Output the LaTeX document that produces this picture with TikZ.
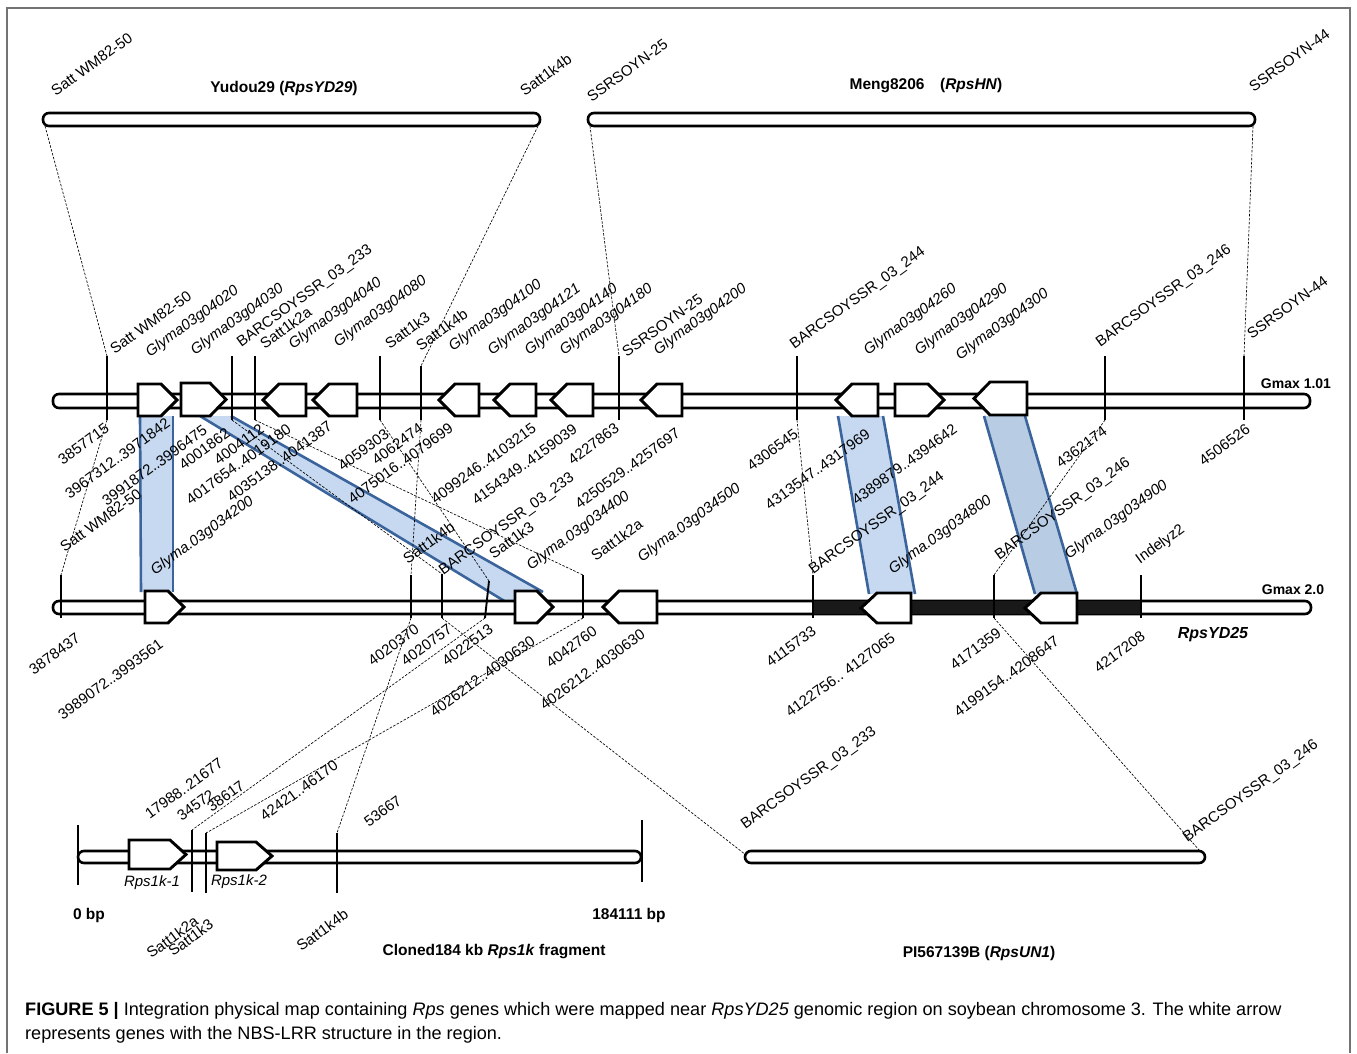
\documentclass[tikz,border=0pt]{standalone}
\usepackage{fontspec}
\setmainfont{Liberation Sans}
\newcommand\lblfnt{\fontsize{15}{17}\selectfont}
\newcommand\ttlfnt{\fontsize{15.5}{18}\selectfont}
\definecolor{bandfill}{RGB}{198,217,241}
\definecolor{bandfillb}{RGB}{184,204,228}
\definecolor{bandedge}{RGB}{58,100,155}
\newcommand\generight[4]{\draw[gene] (#1,#3) -- ({#2-16},#3) -- (#2,{(#3+#4)/2}) -- ({#2-16},#4) -- (#1,#4) -- cycle;}
\newcommand\geneleft[4]{\draw[gene] (#2,#3) -- ({#1+16},#3) -- (#1,{(#3+#4)/2}) -- ({#1+16},#4) -- (#2,#4) -- cycle;}
\begin{document}
\begin{tikzpicture}[x=1pt,y=-1pt,
  chrom/.style={draw=black, line width=2.6pt, fill=white, rounded corners=6pt},
  gene/.style={draw=black, line width=2.9pt, fill=white, line join=miter},
  mk/.style={draw=black, line width=1.9pt},
  dsh/.style={draw=black, line width=0.65pt, dash pattern=on 2.5pt off 1.5pt},
  bedge/.style={draw=bandedge, line width=2.6pt},
  lbl/.style={rotate=36, anchor=south west, inner sep=0pt, font=\lblfnt},
  ilbl/.style={lbl, font=\lblfnt\itshape},
  num/.style={rotate=36, anchor=north east, inner sep=0pt, font=\lblfnt},
  ttl/.style={inner sep=0pt, font=\ttlfnt\bfseries},
]
\useasboundingbox (0,0) rectangle (1357,1053);
\draw[black!55, line width=1.2pt] (7,1053) -- (7,8) -- (1350,8) -- (1350,1053);

% ---------- coordinates of markers ----------
% Gmax 1.01
\coordinate (a1t) at (107,356); \coordinate (a1b) at (107,420);
\coordinate (a2t) at (232,356); \coordinate (a2b) at (232,420);
\coordinate (a3t) at (255,356); \coordinate (a3b) at (255,420);
\coordinate (a4t) at (380,356); \coordinate (a4b) at (380,420);
\coordinate (a5t) at (421,366); \coordinate (a5b) at (421,420);
\coordinate (a6t) at (619,356); \coordinate (a6b) at (619,420);
\coordinate (a7t) at (797,356); \coordinate (a7b) at (797,420);
\coordinate (a8t) at (1105,356); \coordinate (a8b) at (1105,420);
\coordinate (a9t) at (1244,356); \coordinate (a9b) at (1244,420);
% Gmax 2.0
\coordinate (b1t) at (61,575); \coordinate (b1b) at (61,618);
\coordinate (b2t) at (411,575); \coordinate (b2b) at (411,618);
\coordinate (b3t) at (442,574); \coordinate (b3b) at (442,618);
\coordinate (b4t) at (489,581); \coordinate (b4b) at (485,618);
\coordinate (b5t) at (583,575); \coordinate (b5b) at (583,618);
\coordinate (b6t) at (813,575); \coordinate (b6b) at (813,618);
\coordinate (b7t) at (994,575); \coordinate (b7b) at (994,618);
\coordinate (b8t) at (1141,575); \coordinate (b8b) at (1141,618);
% Rps1k fragment
\coordinate (c1t) at (78,825); \coordinate (c1b) at (78,885);
\coordinate (c2t) at (192,830); \coordinate (c2b) at (192,892);
\coordinate (c3t) at (206,833); \coordinate (c3b) at (206,893);
\coordinate (c4t) at (337,833); \coordinate (c4b) at (337,893);
\coordinate (c5t) at (642,820); \coordinate (c5b) at (642,882);
% bar ends
\coordinate (yl) at (45,126); \coordinate (yr) at (538,126);
\coordinate (ml) at (590,126); \coordinate (mr) at (1253,126);
\coordinate (pl) at (746,855); \coordinate (pr) at (1200,851);

% ---------- blue bands ----------
\fill[bandfill] (140,416) -- (173,416) -- (173,592) -- (141,592) -- cycle;
\draw[bedge] (140,416) -- (141,592); \draw[bedge] (173,416) -- (173,592);
\fill[bandfill] (200,416) -- (231,416) -- (543,592) -- (506,602) -- cycle;
\draw[bedge] (200,416) -- (506,602); \draw[bedge] (231,416) -- (543,592);
\fill[bandfill] (838,416) -- (883,416) -- (915,594) -- (869,594) -- cycle;
\draw[bedge] (838,416) -- (869,594); \draw[bedge] (883,416) -- (915,594);
\fill[bandfillb] (984,416) -- (1025,416) -- (1077,594) -- (1035,594) -- cycle;
\draw[bedge] (984,416) -- (1035,594); \draw[bedge] (1025,416) -- (1077,594);

% ---------- dashed connectors ----------
\draw[dsh] (yl) -- (a1t); \draw[dsh] (yr) -- (a5t);
\draw[dsh] (ml) -- (a6t); \draw[dsh] (mr) -- (a9t);
\draw[dsh] (a1b) -- (b1t); \draw[dsh] (a2b) -- (b3t);
\draw[dsh] (a3b) -- (b5t); \draw[dsh] (a4b) -- (b4t);
\draw[dsh] (a5b) -- (b2t); \draw[dsh] (a7b) -- (b6t);
\draw[dsh] (a8b) -- (b7t);
\draw[dsh] (b2b) -- (c4t); \draw[dsh] (b4b) -- (c2t);
\draw[dsh] (b5b) -- (c3t); \draw[dsh] (b3b) -- (pl);
\draw[dsh] (b7b) -- (pr);

% ---------- chromosome bars ----------
\draw[chrom] (43,113) rectangle (540,126);
\draw[chrom] (588,113) rectangle (1255,126);
\draw[chrom] (53,394) rectangle (1310,408);
\draw[chrom] (53,601) rectangle (1311,614);
\fill[black!90] (813,601) rectangle (1141,614);
\draw[chrom] (78,851) rectangle (641,863);
\draw[chrom] (745,851) rectangle (1205,863);

% ---------- markers ----------
\foreach \m in {a1,a2,a3,a4,a5,a6,a7,a8,a9,b1,b2,b3,b4,b5,b6,b7,b8,c1,c2,c3,c4,c5}
  \draw[mk] (\m t) -- (\m b);

% ---------- genes ----------
\generight{138}{177}{384}{416}
\generight{181}{226}{383}{416}
\geneleft{263}{306}{384}{416}
\geneleft{313}{357}{384}{416}
\geneleft{439}{479}{384}{416}
\geneleft{494}{536}{384}{416}
\geneleft{551}{593}{384}{416}
\geneleft{641}{682}{384}{416}
\geneleft{836}{878}{384}{416}
\generight{895}{944}{384}{416}
\geneleft{974}{1027}{382}{415}
\generight{145}{184}{591}{623}
\generight{515}{553}{591}{623}
\geneleft{603}{657}{591}{623}
\geneleft{861}{911}{593}{623}
\geneleft{1025}{1077}{593}{623}
\generight{129}{186}{840}{869}
\generight{217}{272}{842}{870}

% ---------- titles ----------
\node[ttl] (t1) at (284,88) {Yudou29 (\textit{RpsYD29})};
\node[ttl] (t2) at (926,86) {Meng8206\quad(\textit{RpsHN})};
\node[ttl, font=\fontsize{14}{16}\selectfont\bfseries] (g1) at (1296,384) {Gmax 1.01};
\node[ttl, font=\fontsize{14}{16}\selectfont\bfseries] (g2) at (1293,590) {Gmax 2.0};
\node[ttl, font=\fontsize{16}{18}\selectfont\bfseries\itshape] (g3) at (1213,635) {RpsYD25};
\node[ttl] (bp0) at (89,915) {0 bp};
\node[ttl] (bp1) at (629,915) {184111 bp};
\node[ttl] (t3) at (494,952) {Cloned184 kb \textit{Rps1k} fragment};
\node[ttl] (t4) at (979,953) {PI567139B (\textit{RpsUN1})};
\node[inner sep=0pt, font=\lblfnt\itshape] (r1) at (152,883) {Rps1k-1};
\node[inner sep=0pt, font=\lblfnt\itshape] (r2) at (239,882) {Rps1k-2};

% ---------- top bar labels ----------
\node[lbl] (tl1) at (56,97) {Satt WM82-50};
\node[lbl] (tl2) at (525,97) {Satt1k4b};
\node[lbl] (tl3) at (592,103) {SSRSOYN-25};
\node[lbl] (tl4) at (1254,93) {SSRSOYN-44};

% ---------- labels above Gmax 1.01 ----------
\node[lbl] (u1) at (115,355) {Satt WM82-50};
\node[ilbl] (u2) at (152,360) {Glyma03g04020};
\node[ilbl] (u3) at (197,358) {Glyma03g04030};
\node[lbl] (u4) at (243,350) {BARCSOYSSR\_03\_233};
\node[lbl] (u5) at (265,350) {Satt1k2a};
\node[ilbl] (u6) at (295,352) {Glyma03g04040};
\node[ilbl] (u7) at (340,350) {Glyma03g04080};
\node[lbl] (u8) at (390,350) {Satt1k3};
\node[lbl] (u9) at (421,352) {Satt1k4b};
\node[ilbl] (u10) at (455,354) {Glyma03g04100};
\node[ilbl] (u11) at (494,358) {Glyma03g04121};
\node[ilbl] (u12) at (531,358) {Glyma03g04140};
\node[ilbl] (u13) at (566,358) {Glyma03g04180};
\node[lbl] (u14) at (627,358) {SSRSOYN-25};
\node[ilbl] (u15) at (660,358) {Glyma03g04200};
\node[lbl] (u16) at (796,352) {BARCSOYSSR\_03\_244};
\node[ilbl] (u17) at (870,358) {Glyma03g04260};
\node[ilbl] (u18) at (921,358) {Glyma03g04290};
\node[ilbl] (u19) at (962,363) {Glyma03g04300};
\node[lbl] (u20) at (1102,350) {BARCSOYSSR\_03\_246};
\node[lbl] (u21) at (1252,340) {SSRSOYN-44};

% ---------- numbers below Gmax 1.01 ----------
\node[num] (n1) at (104,422) {3857715};
\node[num] (n2) at (165,417) {3967312..3971842};
\node[num] (n3) at (202,424) {3991872..3996475};
\node[num] (n4) at (225,427) {4001862};
\node[num] (n5) at (259,423) {4004112};
\node[num] (n6) at (286,423) {4017654..4019180};
\node[num] (n7) at (327,420) {4035138..4041387};
\node[num] (n8) at (384,428) {4059303};
\node[num] (n9) at (418,422) {4062474};
\node[num] (n10) at (448,422) {4075016..4079699};
\node[num] (n11) at (531,422) {4099246..4103215};
\node[num] (n12) at (572,423) {4154349..4159039};
\node[num] (n13) at (614,422) {4227863};
\node[num] (n14) at (675,427) {4250529..4257697};
\node[num] (n15) at (793,428) {4306545};
\node[num] (n16) at (865,428) {4313547..4317969};
\node[num] (n17) at (952,423) {4389879..4394642};
\node[num] (n18) at (1102,425) {4362174};
\node[num] (n19) at (1245,423) {4506526};

% ---------- labels above Gmax 2.0 ----------
\node[lbl] (v1) at (65,553) {Satt WM82-50};
\node[ilbl] (v2) at (157,578) {Glyma.03g034200};
\node[lbl] (v3) at (408,565) {Satt1k4b};
\node[lbl] (v4) at (445,578) {BARCSOYSSR\_03\_233};
\node[lbl] (v5) at (494,560) {Satt1k3};
\node[ilbl] (v6) at (533,573) {Glyma.03g034400};
\node[lbl] (v7) at (596,562) {Satt1k2a};
\node[ilbl] (v8) at (644,565) {Glyma.03g034500};
\node[lbl] (v9) at (815,577) {BARCSOYSSR\_03\_244};
\node[ilbl] (v10) at (895,577) {Glyma.03g034800};
\node[lbl] (v11) at (1001,563) {BARCSOYSSR\_03\_246};
\node[ilbl] (v12) at (1071,562) {Glyma.03g034900};
\node[lbl] (v13) at (1142,567) {Indelyz2};

% ---------- numbers below Gmax 2.0 ----------
\node[num] (w1) at (75,632) {3878437};
\node[num] (w2) at (158,638) {3989072..3993561};
\node[num] (w3) at (414,623) {4020370};
\node[num] (w4) at (447,623) {4020757};
\node[num] (w5) at (488,623) {4022513};
\node[num] (w6) at (530,635) {4026212..4030630};
\node[num] (w7) at (592,625) {4042760};
\node[num] (w8) at (640,628) {4026212..4030630};
\node[num] (w9) at (811,625) {4115733};
\node[num] (w10) at (890,632) {4122756.. 4127065};
\node[num] (w11) at (996,627) {4171359};
\node[num] (w12) at (1054,635) {4199154..4208647};
\node[num] (w13) at (1140,630) {4217208};

% ---------- Rps1k fragment labels ----------
\node[lbl] (x1) at (150,820) {17988..21677};
\node[lbl] (x2) at (182,822) {34572};
\node[lbl] (x3) at (212,813) {38617};
\node[lbl] (x4) at (265,822) {42421..46170};
\node[lbl] (x5) at (369,828) {53667};
\node[num] (x6) at (193,915) {Satt1k2a};
\node[num] (x7) at (208,918) {Satt1k3};
\node[num] (x8) at (343,908) {Satt1k4b};

% ---------- PI567139B labels ----------
\node[lbl] (y1) at (747,832) {BARCSOYSSR\_03\_233};
\node[lbl] (y2) at (1189,845) {BARCSOYSSR\_03\_246};

% ---------- caption ----------
\node[anchor=base west, inner sep=0pt, font=\fontsize{18.1}{21}\selectfont] (cap1) at (25,1015)
  {\textbf{FIGURE 5 |} Integration physical map containing \textit{Rps} genes which were mapped near \textit{RpsYD25} genomic region on soybean chromosome 3. The white arrow};
\node[anchor=base west, inner sep=0pt, font=\fontsize{18.1}{21}\selectfont] (cap2) at (25,1039)
  {represents genes with the NBS-LRR structure in the region.};
\end{tikzpicture}
\end{document}
